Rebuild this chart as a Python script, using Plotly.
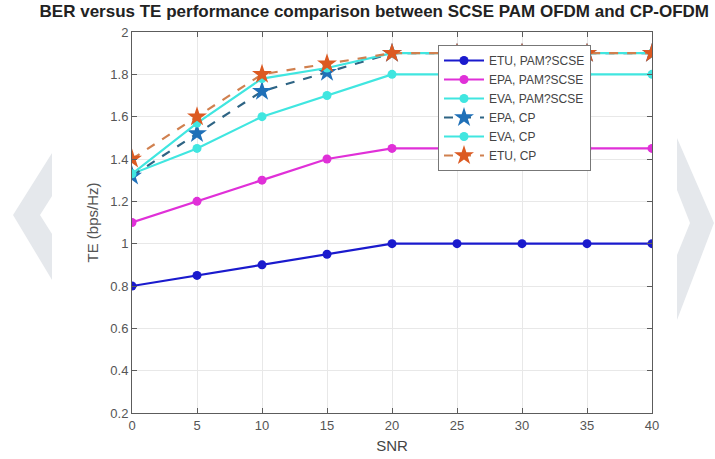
import plotly.graph_objects as go

# ---- data ----
snr = [0, 5, 10, 15, 20, 25, 30, 35, 40]
etu_pam = [0.80, 0.85, 0.90, 0.95, 1.00, 1.00, 1.00, 1.00, 1.00]
epa_pam = [1.10, 1.20, 1.30, 1.40, 1.45, 1.45, 1.45, 1.45, 1.45]
eva_pam = [1.33, 1.45, 1.60, 1.70, 1.80, 1.80, 1.80, 1.80, 1.80]
epa_cp = [1.32, 1.52, 1.72, 1.81, 1.90, 1.90, 1.90, 1.90, 1.90]
eva_cp = [1.33, 1.57, 1.78, 1.83, 1.90, 1.90, 1.90, 1.90, 1.90]
etu_cp = [1.40, 1.60, 1.80, 1.85, 1.90, 1.90, 1.90, 1.90, 1.90]

names = ["ETU, PAM?SCSE", "EPA, PAM?SCSE", "EVA, PAM?SCSE", "EPA, CP", "EVA, CP", "ETU, CP"]
x_ticks = [0, 5, 10, 15, 20, 25, 30, 35, 40]
y_ticks = [0.2, 0.4, 0.6, 0.8, 1, 1.2, 1.4, 1.6, 1.8, 2]

title_text = "BER versus TE performance comparison between SCSE PAM OFDM and CP-OFDM"

FONT = "Liberation Sans, Arial"

fig = go.Figure()

styles = [
    (etu_pam, "#1a1acd", "#1a1acd", "solid", "circle", 9),
    (epa_pam, "#e030d8", "#e030d8", "solid", "circle", 9),
    (eva_pam, "#40e6e0", "#40e6e0", "solid", "circle", 9),
    (epa_cp, "#2e6484", "#1f70b8", "dash", "star", 15),
    (eva_cp, "#40e6e0", "#40e6e0", "solid", "circle", 9),
    (etu_cp, "#d0804f", "#dc5a22", "dash", "star", 15),
]

for (vals, lc, mc, dash, sym, ms), nm in zip(styles, names):
    fig.add_trace(go.Scatter(
        x=snr, y=vals, name=nm, mode="lines+markers",
        line=dict(color=lc, width=2.2, dash=dash),
        marker=dict(color=mc, symbol=sym, size=ms, line=dict(width=0)),
    ))

# page-level watermark chevrons (decoration)
def px(xp):
    return (xp - 132) / 520.0

def py(yp):
    return (413 - yp) / 381.0

def poly(pts):
    return "M " + " L ".join(f"{px(a):.4f},{py(b):.4f}" for a, b in pts) + " Z"

left_chev = [(52, 153), (13, 215), (52, 280), (52, 234), (40, 215), (52, 196)]
right_chev = [(677, 138), (714, 223), (677, 320), (677, 255), (690, 223), (677, 190)]
for pts in (left_chev, right_chev):
    fig.add_shape(type="path", path=poly(pts), xref="paper", yref="paper",
                  fillcolor="#e5e8ec", line=dict(width=0), layer="below")

axis_color = "#5c5c5c"
tick_font = dict(family=FONT, size=13, color="#555555")
fig.update_xaxes(
    range=[0, 40], tickvals=x_ticks, ticks="inside", ticklen=5, tickcolor=axis_color,
    showline=True, linecolor=axis_color, linewidth=1, mirror="ticks",
    showgrid=True, gridcolor="#e8e8e8", gridwidth=1, zeroline=False,
    tickfont=tick_font, automargin=False,
    title=dict(text="SNR", font=dict(family=FONT, size=15, color="#444444"), standoff=8),
)
fig.update_yaxes(
    range=[0.2, 2], tickvals=y_ticks, ticks="inside", ticklen=5, tickcolor=axis_color,
    showline=True, linecolor=axis_color, linewidth=1, mirror="ticks",
    showgrid=True, gridcolor="#e8e8e8", gridwidth=1, zeroline=False,
    tickfont=tick_font, automargin=False,
    title=dict(text="TE (bps/Hz)", font=dict(family=FONT, size=15, color="#555555"), standoff=8),
)

fig.update_layout(
    width=715, height=459,
    margin=dict(l=132, r=63, t=32, b=46),
    paper_bgcolor="white", plot_bgcolor="white",
    title=dict(text="<b>" + title_text + "</b>", x=709 / 715, xanchor="right",
               y=1 - 11 / 459, yanchor="middle",
               font=dict(family=FONT, size=17, color="#222222")),
    legend=dict(
        x=px(438), y=py(45), xanchor="left", yanchor="top",
        bgcolor="white", bordercolor="#777777", borderwidth=1,
        font=dict(family=FONT, size=12, color="#444444"),
        tracegroupgap=0, itemwidth=40,
    ),
    showlegend=True,
)

fig.write_html("out.html")
